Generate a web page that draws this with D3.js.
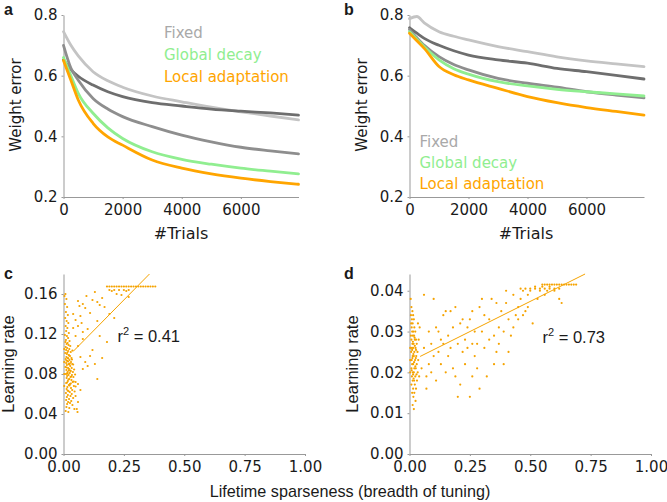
<!DOCTYPE html>
<html>
<head>
<meta charset="utf-8">
<script src="https://cdn.jsdelivr.net/npm/d3@7"></script>
<style>
body { margin: 0; background: #fff; }
svg text { font-family: "DejaVu Sans", sans-serif; fill: #1a1a1a; }
</style>
</head>
<body>
<svg id="chart" width="667" height="502"></svg>
<script>
// ---- data ----
const trials = [0, 250, 500, 1000, 1500, 2000, 3000, 4000, 5000, 6000, 7000, 7950]

// panel a
const aLight  = [0.745, 0.700, 0.665, 0.613, 0.583, 0.562, 0.533, 0.514, 0.496, 0.481, 0.467, 0.454]
const aDark   = [0.652, 0.620, 0.598, 0.569, 0.547, 0.531, 0.511, 0.500, 0.490, 0.483, 0.477, 0.470]
const aMid    = [0.700, 0.625, 0.585, 0.525, 0.490, 0.465, 0.432, 0.404, 0.382, 0.364, 0.352, 0.342]
const aGlobal = [0.660, 0.600, 0.542, 0.476, 0.428, 0.393, 0.349, 0.324, 0.308, 0.295, 0.285, 0.276]
const aLocal  = [0.650, 0.585, 0.520, 0.443, 0.398, 0.371, 0.322, 0.295, 0.276, 0.262, 0.251, 0.242]

// panel b
const bLight  = [0.788, 0.795, 0.774, 0.745, 0.730, 0.718, 0.696, 0.679, 0.662, 0.649, 0.639, 0.630]
const bDark   = [0.758, 0.740, 0.723, 0.700, 0.682, 0.668, 0.652, 0.641, 0.624, 0.613, 0.601, 0.589]
const bMid    = [0.752, 0.725, 0.700, 0.663, 0.637, 0.619, 0.591, 0.575, 0.562, 0.547, 0.536, 0.527]
const bGlobal = [0.745, 0.720, 0.695, 0.652, 0.623, 0.605, 0.580, 0.566, 0.555, 0.547, 0.540, 0.533]
const bLocal  = [0.740, 0.715, 0.690, 0.630, 0.603, 0.586, 0.558, 0.531, 0.511, 0.495, 0.482, 0.470]

const legendLabels = ["Fixed", "Global decay", "Local adaptation"]
const legendColors = ["#a9a9a9", "#90ee90", "#ffa500"]

const lineTicksX = [0, 2000, 4000, 6000]
const lineTicksY = [0.2, 0.4, 0.6, 0.8]
const sparseTicks = [0, 0.25, 0.5, 0.75, 1]
const cTicksY = [0, 0.04, 0.08, 0.12, 0.16]
const dTicksY = [0, 0.01, 0.02, 0.03, 0.04]

// panel c points [sparseness, learning rate]
const cStrip = [[0.004,0.158],[0.008,0.160],[0.012,0.155],[0.006,0.150],[0.015,0.147],[0.010,0.142],[0.018,0.139],[0.007,0.136],[0.013,0.133],[0.020,0.131],[0.009,0.128],[0.016,0.126],[0.011,0.123],[0.022,0.121],[0.006,0.119],[0.014,0.118],[0.019,0.116],[0.010,0.114],[0.025,0.113],[0.008,0.112],[0.017,0.111],[0.013,0.110],[0.021,0.109],[0.028,0.108],[0.009,0.107],[0.015,0.106],[0.024,0.105],[0.011,0.104],[0.019,0.103],[0.030,0.102],[0.007,0.101],[0.014,0.100],[0.022,0.099],[0.027,0.098],[0.012,0.097],[0.018,0.096],[0.033,0.096],[0.009,0.095],[0.025,0.094],[0.016,0.093],[0.031,0.092],[0.011,0.091],[0.021,0.090],[0.036,0.090],[0.014,0.089],[0.028,0.088],[0.008,0.087],[0.019,0.086],[0.034,0.086],[0.023,0.085],[0.012,0.084],[0.030,0.083],[0.017,0.082],[0.039,0.082],[0.026,0.081],[0.010,0.080],[0.021,0.079],[0.035,0.079],[0.015,0.078],[0.029,0.077],[0.041,0.077],[0.013,0.076],[0.024,0.075],[0.033,0.074],[0.018,0.073],[0.038,0.072],[0.011,0.071],[0.027,0.070],[0.022,0.069],[0.043,0.068],[0.016,0.067],[0.031,0.066],[0.013,0.065],[0.036,0.064],[0.020,0.063],[0.026,0.062],[0.010,0.061],[0.034,0.060],[0.018,0.059],[0.029,0.058],[0.014,0.057],[0.040,0.056],[0.023,0.055],[0.011,0.054],[0.032,0.053],[0.019,0.052],[0.027,0.051],[0.015,0.050],[0.037,0.049],[0.012,0.047],[0.024,0.046],[0.045,0.045],[0.009,0.043],[0.020,0.042],[0.058,0.042],[0.003,0.092],[0.003,0.080],[0.003,0.105],[0.003,0.068],[0.016,0.1015],[0.020,0.0955],[0.024,0.0895],[0.013,0.0865],[0.017,0.0805],[0.021,0.0745],[0.025,0.0685],[0.015,0.0715],[0.019,0.0925],[0.023,0.0985],[0.012,0.0935],[0.028,0.0835],[0.032,0.0775],[0.017,0.0635],[0.022,0.0835],[0.026,0.0905],[0.014,0.0805],[0.030,0.0705],[0.035,0.0945],[0.040,0.0895],[0.037,0.1035],[0.044,0.0845],[0.042,0.0725],[0.046,0.0625],[0.048,0.0795],[0.050,0.0675]]
const cCloud = [[0.060,0.153],[0.080,0.150],[0.090,0.146],[0.110,0.141],[0.120,0.154],[0.130,0.162],[0.140,0.152],[0.150,0.149],[0.160,0.156],[0.170,0.147],[0.070,0.138],[0.050,0.134],[0.060,0.128],[0.100,0.125],[0.080,0.122],[0.140,0.133],[0.190,0.140],[0.210,0.136],[0.240,0.159],[0.220,0.160],[0.200,0.163],[0.260,0.163],[0.270,0.157],[0.180,0.112],[0.120,0.104],[0.110,0.098],[0.090,0.092],[0.130,0.090],[0.070,0.097],[0.060,0.108],[0.160,0.096],[0.140,0.075],[0.080,0.085],[0.100,0.088],[0.050,0.072],[0.060,0.070],[0.070,0.064],[0.050,0.058],[0.060,0.052],[0.055,0.045],[0.080,0.115],[0.050,0.118],[0.150,0.118],[0.040,0.126],[0.040,0.140],[0.066,0.148],[0.095,0.158],[0.075,0.131],[0.190,0.164],[0.210,0.164],[0.230,0.164],[0.250,0.164],[0.270,0.164]]
const cCapX = [0.18, 0.19, 0.20, 0.21, 0.22, 0.23, 0.24, 0.25, 0.26, 0.27, 0.28, 0.29, 0.30, 0.31, 0.32, 0.33, 0.34, 0.35, 0.36, 0.37, 0.38]
const cCapY = 0.1675
const cFit = [[0.040, 0.1026], [0.356, 0.180]]

// panel d points
const dStrip = [[0.005,0.038],[0.008,0.036],[0.012,0.035],[0.006,0.034],[0.015,0.034],[0.010,0.033],[0.018,0.033],[0.007,0.032],[0.013,0.032],[0.020,0.031],[0.009,0.031],[0.016,0.030],[0.024,0.030],[0.011,0.030],[0.006,0.029],[0.019,0.029],[0.014,0.029],[0.027,0.028],[0.008,0.028],[0.022,0.028],[0.012,0.027],[0.017,0.027],[0.030,0.027],[0.010,0.026],[0.025,0.026],[0.015,0.026],[0.020,0.025],[0.033,0.025],[0.007,0.025],[0.013,0.024],[0.028,0.024],[0.018,0.024],[0.009,0.023],[0.023,0.023],[0.036,0.023],[0.015,0.022],[0.011,0.022],[0.030,0.022],[0.020,0.021],[0.008,0.021],[0.026,0.021],[0.014,0.020],[0.034,0.020],[0.018,0.020],[0.010,0.019],[0.024,0.019],[0.013,0.018],[0.031,0.018],[0.019,0.018],[0.008,0.017],[0.022,0.017],[0.015,0.016],[0.027,0.016],[0.011,0.015],[0.020,0.015],[0.016,0.014],[0.025,0.013],[0.013,0.012],[0.018,0.011],[0.040,0.019],[0.038,0.028],[0.042,0.031],[0.035,0.032],[0.003,0.023],[0.003,0.026],[0.003,0.020],[0.012,0.0235],[0.016,0.0245],[0.022,0.0265],[0.026,0.0235],[0.019,0.0225],[0.014,0.0275],[0.024,0.0215],[0.011,0.0255],[0.029,0.0195],[0.017,0.0185],[0.021,0.0285],[0.009,0.0205],[0.027,0.0255],[0.015,0.0195]]
const dCloud = [[0.06,0.039],[0.10,0.038],[0.08,0.030],[0.09,0.027],[0.11,0.031],[0.12,0.025],[0.13,0.022],[0.14,0.034],[0.15,0.035],[0.16,0.029],[0.17,0.026],[0.18,0.021],[0.19,0.019],[0.20,0.014],[0.21,0.017],[0.22,0.025],[0.23,0.028],[0.24,0.031],[0.25,0.033],[0.26,0.027],[0.27,0.024],[0.28,0.021],[0.29,0.036],[0.30,0.030],[0.31,0.026],[0.32,0.019],[0.33,0.033],[0.34,0.038],[0.35,0.029],[0.36,0.025],[0.37,0.031],[0.38,0.035],[0.39,0.022],[0.40,0.037],[0.41,0.033],[0.42,0.029],[0.43,0.039],[0.44,0.034],[0.45,0.036],[0.46,0.038],[0.47,0.040],[0.48,0.035],[0.49,0.039],[0.50,0.040],[0.51,0.032],[0.52,0.041],[0.53,0.038],[0.54,0.040],[0.55,0.041],[0.56,0.039],[0.57,0.040],[0.58,0.041],[0.60,0.040],[0.62,0.038],[0.63,0.037],[0.19,0.036],[0.21,0.032],[0.17,0.035],[0.13,0.028],[0.23,0.022],[0.26,0.019],[0.29,0.016],[0.25,0.014],[0.11,0.018],[0.07,0.016],[0.15,0.020],[0.27,0.030],[0.31,0.034],[0.35,0.022],[0.28,0.027],[0.24,0.026],[0.20,0.027],[0.18,0.031],[0.16,0.024],[0.14,0.027],[0.12,0.030],[0.10,0.024],[0.08,0.022],[0.06,0.026],[0.05,0.021],[0.07,0.019],[0.09,0.020],[0.33,0.028],[0.37,0.027],[0.39,0.030],[0.41,0.025],[0.43,0.031],[0.45,0.033],[0.47,0.034],[0.49,0.036],[0.30,0.038],[0.26,0.035],[0.22,0.033],[0.40,0.040],[0.36,0.037]]
const dCapX = [0.55, 0.56, 0.57, 0.58, 0.59, 0.60, 0.61, 0.62, 0.63, 0.64, 0.65, 0.66, 0.67, 0.68, 0.69]
const dCapY = 0.0415
const dRowX = [0.46, 0.48, 0.50, 0.52, 0.54, 0.56, 0.58, 0.60, 0.62]
const dRowY = 0.0405
const dFit = [[0.044, 0.0239], [0.727, 0.0441]]

// ---- drawing ----
const svg = d3.select('#chart')
const dotColor = '#f5a300'
const axisColor = '#999'

function drawAxes(x, y, xt, yt, xf, yf) {
    const gx = svg.append('g')
        .attr('transform', `translate(0,${y.range()[0]})`)
        .call(d3.axisBottom(x).tickValues(xt).tickFormat(xf).tickSize(2).tickSizeOuter(0).tickPadding(5))
    const gy = svg.append('g')
        .attr('transform', `translate(${x.range()[0]},0)`)
        .call(d3.axisLeft(y).tickValues(yt).tickFormat(yf).tickSize(2).tickSizeOuter(0).tickPadding(4))
    for (const g of [gx, gy]) {
        g.select('.domain').attr('stroke', axisColor)
        g.selectAll('.tick line').attr('stroke', axisColor)
        g.selectAll('.tick text').style('font-size', '15px').attr('fill', '#1a1a1a')
    }
}

function drawLines(xr, series, legendX, legendY) {
    const x = d3.scaleLinear().domain([0, 7950]).range(xr)
    const y = d3.scaleLinear().domain([0.2, 0.8]).range([197, 15])
    drawAxes(x, y, lineTicksX, lineTicksY, d3.format('d'), d3.format('.1f'))

    const line = d3.line()
        .x((d, i) => x(trials[i]))
        .y(d => y(d))
        .curve(d3.curveMonotoneX)

    series.forEach(s => {
        svg.append('path')
            .datum(s.values)
            .attr('d', line)
            .attr('fill', 'none')
            .attr('stroke', s.color)
            .attr('stroke-width', 2.8)
            .attr('stroke-linecap', 'round')
    })

    legendLabels.forEach((t, i) => {
        svg.append('text')
            .attr('x', legendX)
            .attr('y', legendY[i])
            .style('font-size', '15px')
            .style('fill', legendColors[i])
            .text(t)
    })
}

drawLines([63.5, 298.5], [
    { values: aLight, color: '#c4c4c4' },
    { values: aDark, color: '#6e6e6e' },
    { values: aMid, color: '#8e8e8e' },
    { values: aGlobal, color: '#90ee90' },
    { values: aLocal, color: '#ffa500' }
], 164, [38, 60, 82])

drawLines([409.5, 644], [
    { values: bLight, color: '#c4c4c4' },
    { values: bDark, color: '#6e6e6e' },
    { values: bMid, color: '#8e8e8e' },
    { values: bGlobal, color: '#90ee90' },
    { values: bLocal, color: '#ffa500' }
], 419.5, [146.5, 168, 188.5])

function drawScatter(xr, yMax, yt, pts, fit, rx, ry, rLabel) {
    const x = d3.scaleLinear().domain([0, 1]).range(xr)
    const y = d3.scaleLinear().domain([0, yMax]).range([454, 454 - 180])
    drawAxes(x, y, sparseTicks, yt, d3.format('.2f'), d3.format('.2f'))

    svg.append('g').selectAll('circle')
        .data(pts)
        .join('circle')
        .attr('cx', d => x(d[0]))
        .attr('cy', d => y(d[1]))
        .attr('r', 1.1)
        .attr('fill', dotColor)

    svg.append('path')
        .datum(fit)
        .attr('d', d3.line().x(d => x(d[0])).y(d => y(d[1])))
        .attr('stroke', dotColor)
        .attr('stroke-width', 1)
        .attr('fill', 'none')

    const t = svg.append('text')
        .attr('x', rx)
        .attr('y', ry)
        .style('font-family', '"Liberation Sans", Arial, sans-serif')
        .style('font-size', '16.5px')
    t.append('tspan').text('r')
    t.append('tspan').attr('dy', -7).style('font-size', '11px').text('2')
    t.append('tspan').attr('dy', 7).text(' = ' + rLabel)
}

drawScatter([63.5, 305], 0.18, cTicksY,
    cStrip.concat(cCloud, cCapX.map(v => [v, cCapY])), cFit, 117.5, 342, '0.41')
drawScatter([409.5, 651], 0.0441, dTicksY,
    dStrip.concat(dCloud, dCapX.map(v => [v, dCapY]), dRowX.map(v => [v, dRowY])), dFit, 542.5, 343, '0.73')

// titles
const title = (txt, x, y, rot, size, fam) => {
    svg.append('text')
        .attr('transform', `translate(${x},${y}) rotate(${rot})`)
        .attr('text-anchor', 'middle')
        .style('font-size', size)
        .style('font-family', fam)
        .text(txt)
}
const dv = '"DejaVu Sans", sans-serif'
const lib = '"Liberation Sans", Arial, sans-serif'
title('Weight error', 21, 105, -90, '15px', dv)
title('Weight error', 367, 105, -90, '15px', dv)
title('#Trials', 181, 239, 0, '16px', dv)
title('#Trials', 526, 239, 0, '16px', dv)
title('Learning rate', 14, 364, -90, '16.5px', lib)
title('Learning rate', 358, 364, -90, '16.5px', lib)
title('Lifetime sparseness (breadth of tuning)', 350, 497, 0, '16.2px', lib)

const panel = (txt, x, y) => {
    svg.append('text')
        .attr('x', x).attr('y', y)
        .style('font-family', lib)
        .style('font-weight', 'bold')
        .style('font-size', '16px')
        .text(txt)
}
panel('a', 4, 15)
panel('b', 344, 15)
panel('c', 4, 279)
panel('d', 344, 279)
</script>
</body>
</html>
